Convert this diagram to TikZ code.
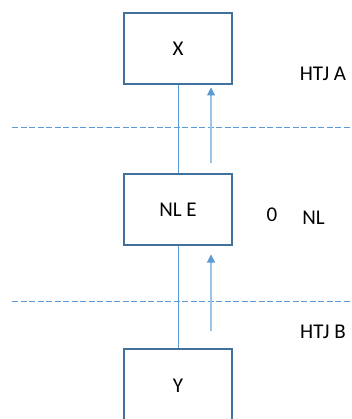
\documentclass[tikz,border=0pt]{standalone}
\usepackage{fontspec}
\setmainfont{Carlito}
\usetikzlibrary{arrows.meta}
\definecolor{boxedge}{HTML}{41719C}
\definecolor{linkblue}{HTML}{5B9BD5}
\definecolor{paleblue}{HTML}{9DC3E6}
\begin{document}
\begin{tikzpicture}[x=1pt,y=-1pt,
  block/.style={draw=boxedge,line width=1.2pt,fill=white,minimum width=108pt,
    minimum height=71pt,inner sep=0pt,font=\fontsize{21}{25}\selectfont},
  label/.style={inner sep=0pt,font=\fontsize{21}{25}\selectfont},
  link/.style={draw=linkblue,line width=1pt},
  flow/.style={draw=paleblue,line width=1.1pt,
    -{Triangle[length=8pt,width=8pt,fill=linkblue,color=linkblue]}},
  boundary/.style={draw=linkblue,line width=1pt,dash pattern=on 6pt off 2.5pt}]
\useasboundingbox (0,0) rectangle (352,419);
\clip (0,0) rectangle (352,419);
\fill[white] (0,0) rectangle (352,419);

% layer boundaries
\coordinate (b1l) at (12,127.7);
\coordinate (b1r) at (352,127.7);
\coordinate (b2l) at (12,301.5);
\coordinate (b2r) at (352,301.5);
\draw[boundary] (b1l) -- (b1r);
\draw[boundary] (b2l) -- (b2r);

% blocks
\node[block] (x) at (178,48.5) {X};
\node[block] (e) at (178,209.5) {NL E};
\node[block,minimum height=73pt] (y) at (178,385.5) {Y};

% links between blocks
\draw[link] (x.south) -- (e.north);
\draw[link] (e.south) -- (y.north);

% upward flow arrows
\coordinate (a1s) at (211,163);
\coordinate (a1e) at (211,87.5);
\coordinate (a2s) at (211,330.5);
\coordinate (a2e) at (211,254.5);
\draw[flow] (a1s) -- (a1e);
\draw[flow] (a2s) -- (a2e);

% side labels
\node[label] (ta) at (323,73.5) {HTJ A};
\node[label] (t0) at (272,214.5) {0};
\node[label] (tn) at (313.5,218) {NL};
\node[label] (tb) at (323,331.5) {HTJ B};
\end{tikzpicture}
\end{document}
